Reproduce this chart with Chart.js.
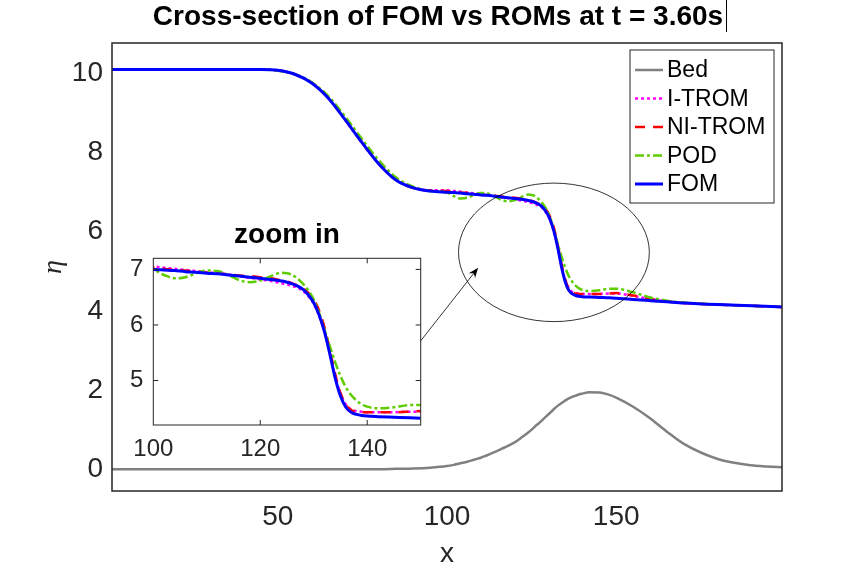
<!DOCTYPE html>
<html>
<head>
<meta charset="utf-8">
<script src="https://cdn.jsdelivr.net/npm/chart.js@4.4.1/dist/chart.umd.min.js"></script>
<style>
  html, body { margin: 0; padding: 0; background: #fff; }
  #wrap { position: relative; width: 864px; height: 576px; }
  #main { position: absolute; left: 0; top: 0; }
  #inset { position: absolute; left: 100px; top: 215px; }
</style>
</head>
<body>
<div id="wrap">
  <canvas id="main" width="864" height="576"></canvas>
  <canvas id="inset" width="374" height="250"></canvas>
</div>
<script>
// cross-section samples (x) and the five curves
var xs = [1, 10, 20, 30, 40, 45, 50, 55, 60, 65, 70, 75, 80, 85, 90, 95,
  100, 102, 104, 106, 108, 110, 112, 114, 116, 118,
  120, 122, 124, 125, 126, 127, 128, 129, 130, 131,
  132, 133, 134, 135, 136, 137, 138, 139, 140, 142,
  145, 148, 150, 155, 160, 165, 170, 180, 190, 199]

var bed = [0, 0, 0, 0, 0, 0, 0, 0, 0, 0, 0, 0, 0, 0.01, 0.02, 0.04,
  0.08, 0.11, 0.15, 0.19, 0.24, 0.29, 0.36, 0.43, 0.51, 0.59,
  0.68, 0.80, 0.93, 1.00, 1.08, 1.15, 1.23, 1.31, 1.39, 1.47,
  1.55, 1.62, 1.68, 1.74, 1.79, 1.83, 1.86, 1.89, 1.91, 1.945,
  1.94, 1.88, 1.81, 1.58, 1.29, 0.95, 0.64, 0.26, 0.10, 0.05]

var itrom = [10.10, 10.10, 10.10, 10.10, 10.10, 10.10, 10.08, 9.98, 9.76, 9.37, 8.81, 8.23, 7.70, 7.31, 7.12, 7.05,
  7.05, 7.03, 7.01, 6.99, 6.97, 6.95, 6.93, 6.91, 6.88, 6.85,
  6.82, 6.79, 6.75, 6.73, 6.70, 6.67, 6.61, 6.52, 6.38, 6.17,
  5.88, 5.50, 5.08, 4.76, 4.57, 4.48, 4.45, 4.44, 4.43, 4.43,
  4.43, 4.44, 4.44, 4.38, 4.30, 4.24, 4.20, 4.16, 4.13, 4.10]

var nitrom = [10.10, 10.10, 10.10, 10.10, 10.10, 10.10, 10.08, 9.98, 9.77, 9.38, 8.83, 8.25, 7.71, 7.31, 7.11, 7.04,
  7.03, 7.01, 6.99, 6.98, 6.96, 6.94, 6.93, 6.91, 6.89, 6.88,
  6.86, 6.84, 6.80, 6.78, 6.75, 6.71, 6.66, 6.58, 6.46, 6.26,
  5.96, 5.56, 5.12, 4.78, 4.56, 4.47, 4.44, 4.43, 4.43, 4.43,
  4.43, 4.44, 4.45, 4.39, 4.30, 4.24, 4.20, 4.16, 4.13, 4.10]

var pod = [10.10, 10.10, 10.10, 10.10, 10.10, 10.10, 10.07, 9.98, 9.78, 9.42, 8.90, 8.33, 7.79, 7.37, 7.14, 7.03,
  6.99, 6.90, 6.84, 6.86, 6.93, 6.98, 6.97, 6.90, 6.81, 6.77,
  6.80, 6.88, 6.94, 6.93, 6.90, 6.83, 6.74, 6.62, 6.46, 6.22,
  5.92, 5.62, 5.33, 5.08, 4.88, 4.74, 4.64, 4.57, 4.53, 4.50,
  4.52, 4.56, 4.56, 4.47, 4.34, 4.26, 4.21, 4.16, 4.13, 4.10]

var fom = [10.10, 10.10, 10.10, 10.10, 10.10, 10.10, 10.08, 9.98, 9.76, 9.37, 8.82, 8.24, 7.70, 7.30, 7.11, 7.03,
  7.00, 6.99, 6.98, 6.96, 6.95, 6.93, 6.92, 6.90, 6.88, 6.86,
  6.84, 6.82, 6.79, 6.77, 6.74, 6.70, 6.64, 6.54, 6.40, 6.18,
  5.88, 5.48, 5.05, 4.72, 4.52, 4.43, 4.39, 4.37, 4.36, 4.35,
  4.34, 4.33, 4.32, 4.29, 4.26, 4.23, 4.20, 4.16, 4.13, 4.10]

var xTicks = [50, 100, 150]
var yTicks = [0, 2, 4, 6, 8, 10]
var zoomXTicks = [100, 120, 140]
var zoomYTicks = [5, 6, 7]

var FONT = "'Liberation Sans', Arial, Helvetica, sans-serif"
var AXIS = "#262626"
Chart.defaults.font.family = FONT

function pts(ys) {
  return xs.map(function (x, i) { return { x: x, y: ys[i] } })
}

function makeDatasets(clip) {
  var common = { pointRadius: 0, fill: false, cubicInterpolationMode: "monotone", clip: clip }
  return [
    Object.assign({ label: "Bed", data: pts(bed), borderColor: "#808080", borderWidth: 2.5, order: 4 }, common),
    Object.assign({ label: "I-TROM", data: pts(itrom), borderColor: "#ff00ff", borderWidth: 2.5, borderDash: [3, 3], order: 3 }, common),
    Object.assign({ label: "NI-TROM", data: pts(nitrom), borderColor: "#ff0000", borderWidth: 2.5, borderDash: [10, 8], order: 2 }, common),
    Object.assign({ label: "POD", data: pts(pod), borderColor: "#5fcc00", borderWidth: 2.5, borderDash: [9, 3, 3, 3], order: 1 }, common),
    Object.assign({ label: "FOM", data: pts(fom), borderColor: "#0000ff", borderWidth: 3, order: 0 }, common)
  ]
}

function setTicks(list) {
  return function (scale) { scale.ticks = list.map(function (v) { return { value: v } }) }
}
function fixWidth(w) { return function (scale) { scale.width = w } }
function fixHeight(h) { return function (scale) { scale.height = h } }

// white plot background, box round the axes, optional inward ticks
var framePlugin = {
  id: "frame",
  beforeDraw: function (chart, args, opts) {
    if (!opts.fill) return
    var a = chart.chartArea, ctx = chart.ctx
    ctx.save()
    ctx.fillStyle = "#fff"
    ctx.fillRect(a.left, a.top, a.right - a.left, a.bottom - a.top)
    ctx.restore()
  },
  afterDraw: function (chart, args, opts) {
    var a = chart.chartArea, ctx = chart.ctx
    ctx.save()
    ctx.strokeStyle = AXIS
    ctx.lineWidth = opts.width
    ctx.strokeRect(a.left, a.top, a.right - a.left, a.bottom - a.top)
    if (opts.tickLen) {
      var L = opts.tickLen
      ctx.lineWidth = 1
      ctx.beginPath()
      chart.scales.x.ticks.forEach(function (t) {
        var px = chart.scales.x.getPixelForValue(t.value)
        if (px <= a.left + 1 || px >= a.right - 1) return
        ctx.moveTo(px, a.bottom); ctx.lineTo(px, a.bottom - L)
        ctx.moveTo(px, a.top); ctx.lineTo(px, a.top + L)
      })
      chart.scales.y.ticks.forEach(function (t) {
        var py = chart.scales.y.getPixelForValue(t.value)
        if (py <= a.top + 1 || py >= a.bottom - 1) return
        ctx.moveTo(a.left, py); ctx.lineTo(a.left + L, py)
        ctx.moveTo(a.right, py); ctx.lineTo(a.right - L, py)
      })
      ctx.stroke()
    }
    ctx.restore()
  }
}

// ellipse + arrow pointing at the zoomed region, and the legend box
var extrasPlugin = {
  id: "extras",
  afterDatasetsDraw: function (chart) {
    var ctx = chart.ctx, sx = chart.scales.x, sy = chart.scales.y
    var cx = sx.getPixelForValue(131.6), cy = sy.getPixelForValue(5.48)
    var rx = sx.getPixelForValue(131.6 + 28.2) - cx
    var ry = cy - sy.getPixelForValue(5.48 + 1.75)
    ctx.save()
    ctx.strokeStyle = "#000"
    ctx.lineWidth = 0.8
    ctx.beginPath()
    ctx.ellipse(cx, cy, rx, ry, 0, 0, Math.PI * 2)
    ctx.stroke()

    var x0 = sx.getPixelForValue(92.0), y0 = sy.getPixelForValue(3.22)
    var x1 = sx.getPixelForValue(109.2), y1 = sy.getPixelForValue(5.09)
    var ang = Math.atan2(y1 - y0, x1 - x0)
    ctx.beginPath()
    ctx.moveTo(x0, y0)
    ctx.lineTo(x1 - 6 * Math.cos(ang), y1 - 6 * Math.sin(ang))
    ctx.stroke()
    ctx.fillStyle = "#000"
    ctx.beginPath()
    ctx.moveTo(x1, y1)
    ctx.lineTo(x1 - 10 * Math.cos(ang) + 4 * Math.sin(ang), y1 - 10 * Math.sin(ang) - 4 * Math.cos(ang))
    ctx.lineTo(x1 - 7 * Math.cos(ang), y1 - 7 * Math.sin(ang))
    ctx.lineTo(x1 - 10 * Math.cos(ang) - 4 * Math.sin(ang), y1 - 10 * Math.sin(ang) + 4 * Math.cos(ang))
    ctx.closePath()
    ctx.fill()
    ctx.restore()
  },
  afterDraw: function (chart) {
    var ctx = chart.ctx, a = chart.chartArea
    var bw = 144, bh = 153
    var bx = a.right - 8 - bw, by = a.top + 7
    ctx.save()
    ctx.fillStyle = "#fff"
    ctx.fillRect(bx, by, bw, bh)
    ctx.strokeStyle = AXIS
    ctx.lineWidth = 1
    ctx.strokeRect(bx, by, bw, bh)
    ctx.font = "23px " + FONT
    ctx.textBaseline = "middle"
    chart.data.datasets.forEach(function (ds, i) {
      var ly = by + 20 + i * 28.5
      ctx.setLineDash(ds.borderDash || [])
      ctx.strokeStyle = ds.borderColor
      ctx.lineWidth = ds.borderWidth
      ctx.beginPath()
      ctx.moveTo(bx + 5, ly)
      ctx.lineTo(bx + 33, ly)
      ctx.stroke()
      ctx.setLineDash([])
      ctx.fillStyle = "#000"
      ctx.fillText(ds.label, bx + 37, ly + 1)
    })
    // the thin caret left after the title
    var t = chart.options.plugins.title
    ctx.font = "bold " + t.font.size + "px " + FONT
    var w = ctx.measureText(t.text).width
    var tx = Math.round((chart.width + 12) / 2 + w / 2 + 3) + 0.5
    ctx.strokeStyle = "#000"
    ctx.lineWidth = 1
    ctx.beginPath()
    ctx.moveTo(tx, 0)
    ctx.lineTo(tx, 32)
    ctx.stroke()
    ctx.restore()
  }
}

var mainChart = new Chart(document.getElementById("main"), {
  type: "line",
  data: { datasets: makeDatasets(3) },
  options: {
    responsive: false,
    animation: false,
    layout: { padding: { left: 12, top: 0, right: 0, bottom: 0 } },
    plugins: {
      legend: { display: false },
      tooltip: { enabled: false },
      title: {
        display: true,
        text: "Cross-section of FOM vs ROMs at t = 3.60s",
        color: "#000",
        font: { family: FONT, size: 28, weight: "bold" },
        padding: { top: 0, bottom: 9.4 }
      },
      frame: { width: 1.5, tickLen: 0 }
    },
    scales: {
      x: {
        type: "linear", min: 1, max: 199,
        grid: { display: false, drawTicks: false }, border: { display: false },
        afterBuildTicks: setTicks(xTicks), afterFit: fixHeight(85),
        ticks: { font: { size: 28 }, color: AXIS, padding: 9, maxRotation: 0, autoSkip: false },
        title: { display: true, text: "x", color: AXIS, font: { size: 28 }, padding: { top: 5, bottom: 5 } }
      },
      y: {
        type: "linear", min: -0.55, max: 10.77,
        grid: { display: false, drawTicks: false }, border: { display: false },
        afterBuildTicks: setTicks(yTicks), afterFit: fixWidth(100),
        ticks: { font: { size: 28 }, color: AXIS, padding: 9, autoSkip: false },
        title: { display: true, text: "η", color: AXIS, font: { family: "'Liberation Serif', 'DejaVu Serif', serif", size: 28, style: "italic" }, padding: { top: 25, bottom: 25 } }
      },
      y2: {
        type: "linear", position: "right", min: -0.55, max: 10.77,
        grid: { display: false, drawTicks: false }, border: { display: false },
        ticks: { display: false }, afterFit: fixWidth(82)
      }
    }
  },
  plugins: [framePlugin, extrasPlugin]
})

var insetChart = new Chart(document.getElementById("inset"), {
  type: "line",
  data: { datasets: makeDatasets(0) },
  options: {
    responsive: false,
    animation: false,
    layout: { padding: 0 },
    plugins: {
      legend: { display: false },
      tooltip: { enabled: false },
      title: {
        display: true,
        text: "zoom in",
        color: "#000",
        font: { family: FONT, size: 28, weight: "bold" },
        padding: { top: 3.5, bottom: 6.2 }
      },
      frame: { width: 1, tickLen: 5, fill: true }
    },
    scales: {
      x: {
        type: "linear", min: 100, max: 150,
        grid: { display: false, drawTicks: false }, border: { display: false },
        afterBuildTicks: setTicks(zoomXTicks), afterFit: fixHeight(40),
        ticks: { font: { size: 24 }, color: AXIS, padding: 10, maxRotation: 0, autoSkip: false }
      },
      y: {
        type: "linear", min: 4.2, max: 7.2,
        grid: { display: false, drawTicks: false }, border: { display: false },
        afterBuildTicks: setTicks(zoomYTicks), afterFit: fixWidth(53.3),
        ticks: { font: { size: 24 }, color: AXIS, padding: 10, autoSkip: false }
      },
      y2: {
        type: "linear", position: "right", min: 4.2, max: 7.2,
        grid: { display: false, drawTicks: false }, border: { display: false },
        ticks: { display: false }, afterFit: fixWidth(53.3)
      }
    }
  },
  plugins: [framePlugin]
})
</script>
</body>
</html>
